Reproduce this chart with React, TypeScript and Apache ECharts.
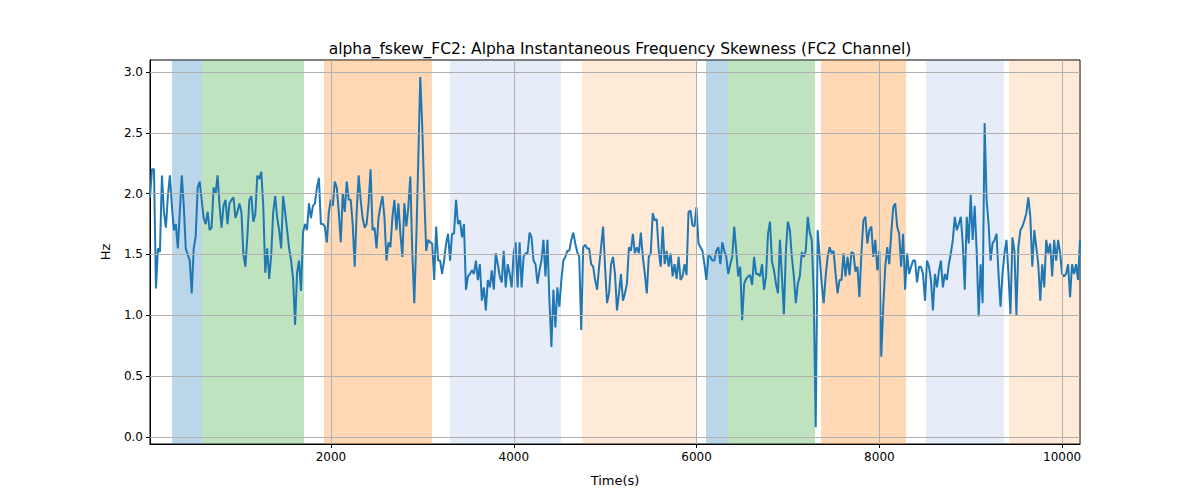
import { useEffect, useRef } from "react";
import * as echarts from "echarts";

const tStart = 20;
const tEnd = 10195;

// skewness values, sampled evenly across the recording
const values: number[] = [
  1.97, 2.2, 2.2, 1.22, 1.55, 1.52, 2.15, 1.85, 1.72, 1.98, 2.15, 1.9, 1.7, 1.75, 1.55, 1.85, 2.15, 1.9, 1.55, 1.5,
  1.45, 1.18, 1.55, 1.65, 2.05, 2.1, 1.95, 1.8, 1.75, 1.85, 1.7, 1.72, 2.05, 2.0, 2.15, 1.9, 1.72, 1.9, 1.95, 1.75,
  1.92, 1.95, 1.97, 1.8, 1.85, 1.92, 1.85, 1.5, 1.4, 1.65, 1.95, 1.98, 1.77, 1.83, 2.15, 2.12, 2.18, 1.9, 1.35, 1.55,
  1.3, 1.5, 1.85, 1.98, 1.8, 1.7, 1.55, 1.98, 1.85, 1.7, 1.55, 1.45, 1.3, 0.92, 1.35, 1.45, 1.2, 1.68, 1.75, 1.7,
  1.92, 1.8, 1.9, 1.92, 2.05, 2.13, 1.75, 1.75, 1.73, 1.6, 1.85, 1.95, 1.9, 2.1, 2.05, 1.85, 1.6, 2.0, 1.85, 2.1,
  1.95, 1.95, 1.75, 1.4, 1.85, 2.15, 1.95, 1.8, 1.72, 1.75, 1.92, 2.2, 1.7, 1.72, 1.55, 1.8, 1.9, 1.98, 1.8, 1.45,
  1.6,
  1.56, 1.81, 1.95, 1.7, 1.92, 1.67, 1.48, 1.92, 1.73, 1.89, 2.14, 1.51, 1.1, 1.62, 2.27, 2.96, 2.55, 2.0, 1.53, 1.62,
  1.6, 1.59, 1.29, 1.73, 1.45, 1.45, 1.34, 1.45, 1.59, 1.67, 1.45, 1.67, 1.67, 1.95, 1.75, 1.78, 1.64, 1.75, 1.21, 1.32,
  1.34, 1.37, 1.34, 1.45, 1.29, 1.42, 1.12, 1.23, 1.04, 1.29, 1.23, 1.37, 1.21, 1.51, 1.42, 1.32, 1.27, 1.53, 1.23, 1.42,
  1.34, 1.23, 1.51, 1.6, 1.23, 1.6, 1.23, 1.48, 1.51, 1.51, 1.68, 1.64, 1.45, 1.42, 1.26, 1.37, 1.45, 1.62, 1.32, 1.62,
  1.12, 0.74, 1.21, 0.9, 1.23, 1.07, 1.29, 1.45, 1.48, 1.53, 1.53, 1.62, 1.68, 1.59, 1.52, 1.48, 0.88, 1.56, 1.58, 1.55,
  1.55, 1.42, 1.4, 1.29, 1.21, 1.4, 1.56, 1.73, 1.4, 1.1, 1.18, 1.42, 1.48, 1.34, 1.04, 1.18, 1.34, 1.12,
  1.18, 1.26, 1.56, 1.53, 1.67, 1.51, 1.56, 1.51, 1.68, 1.48, 1.34, 1.18, 1.48, 1.51, 1.84, 1.78, 1.79, 1.53, 1.4, 1.73,
  1.42, 1.53, 1.4, 1.51, 1.32, 1.42, 1.3, 1.48, 1.29, 1.32, 1.42, 1.33, 1.85, 1.86, 1.74, 1.73, 1.89, 1.59, 1.56, 1.53,
  1.42, 1.29, 1.49, 1.48, 1.45, 1.45, 1.53, 1.56, 1.42, 1.6, 1.53, 1.48, 1.34, 1.42, 1.48, 1.73, 1.53, 1.32, 1.4, 0.96,
  1.26, 1.3, 1.32, 1.33, 1.25, 1.48, 1.34, 1.34, 1.32, 1.42, 1.21, 1.32, 1.67, 1.77, 1.44, 1.37, 1.26, 1.18, 1.62, 1.32,
  1.01, 1.53, 1.77, 1.7, 1.48, 1.32, 1.1, 1.26, 1.32, 1.52, 1.48, 1.53, 1.81, 1.68, 1.62, 1.18, 0.08, 1.7, 1.48, 1.26,
  1.1, 1.32, 1.48, 1.56, 1.51, 1.53, 1.34, 1.18, 1.29, 1.29, 1.51, 1.32, 1.48, 1.33, 1.52, 1.51, 1.36, 1.4,
  1.15, 1.51, 1.78, 1.81, 1.59, 1.7, 1.73, 1.48, 1.62, 1.37, 1.53, 0.66, 1.07, 1.4, 1.56, 1.42, 1.67, 1.89, 1.92, 1.73,
  1.67, 1.4, 1.67, 1.21, 1.51, 1.34, 1.4, 1.45, 1.45, 1.27, 1.4, 1.4, 1.34, 1.12, 1.45, 1.4, 1.29, 1.04, 1.34, 1.23,
  1.36, 1.45, 1.23, 1.34, 1.29, 1.42, 1.51, 1.62, 1.81, 1.7, 1.75, 1.81, 1.59, 1.21, 1.81, 1.59, 1.99, 1.62, 1.9, 1.53,
  0.99, 1.42, 1.1, 2.58, 1.95, 1.75, 1.45, 1.59, 1.62, 1.67, 1.34, 1.07, 1.34, 1.51, 1.62, 1.34, 1.01, 1.64, 1.53, 1.0,
  1.56, 1.7, 1.73, 1.78, 1.84, 1.97, 1.81, 1.4, 1.7, 1.56, 1.42, 1.12, 1.42, 1.23, 1.62, 1.51, 1.59, 1.32, 1.62, 1.45,
  1.62, 1.51, 1.34, 1.32, 1.34, 1.42, 1.15, 1.42, 1.34, 1.42, 1.29, 1.62,
];

// shaded segments: [start, end, colour, opacity]
const bandStarts = [261, 590, 1924, 3302, 4746, 6103, 6344, 7361, 8510, 9418];
const bandEnds = [590, 1705, 3105, 4517, 5993, 6344, 7296, 8291, 9363, 10195];
const bandColors = ["#1f77b4", "#2ca02c", "#ff7f0e", "#4f7fd0", "#ff7f0e", "#1f77b4", "#2ca02c", "#ff7f0e", "#4f7fd0", "#ff7f0e"];
const bandAlphas = [0.3, 0.3, 0.3, 0.14, 0.16, 0.3, 0.3, 0.3, 0.14, 0.16];

const xTicks = [2000, 4000, 6000, 8000, 10000];
const yTicks = [0, 0.5, 1, 1.5, 2, 2.5, 3];

export default function App() {
  const chartRef = useRef<HTMLDivElement>(null);

  useEffect(() => {
    if (!chartRef.current) return;
    const chart = echarts.init(chartRef.current, undefined, { renderer: "svg" });

    const step = (tEnd - tStart) / (values.length - 1);
    const points = values.map((v, i) => [tStart + i * step, v]);
    const font = "DejaVu Sans";

    const option: echarts.EChartsOption = {
      animation: false,
      title: {
        text: "alpha_fskew_FC2: Alpha Instantaneous Frequency Skewness (FC2 Channel)",
        left: 615,
        top: 36,
        textAlign: "center",
        textStyle: { fontFamily: font, fontSize: 15.5, fontWeight: "normal", color: "#000" },
      },
      grid: { left: 150, right: 120, top: 60, bottom: 56, show: true, borderColor: "#000", borderWidth: 1, backgroundColor: "transparent" },
      xAxis: {
        type: "value",
        min: tStart,
        max: tEnd,
        name: "Time(s)",
        nameLocation: "middle",
        nameGap: 30,
        nameTextStyle: { fontFamily: font, fontSize: 13, color: "#000" },
        axisLine: { show: true, onZero: false, lineStyle: { color: "#000" } },
        axisTick: { show: true, customValues: xTicks, length: 4, lineStyle: { color: "#000" } },
        axisLabel: { customValues: xTicks, fontFamily: font, fontSize: 12, color: "#000", margin: 7, formatter: (v: number) => String(v) },
        splitLine: { show: false },
      },
      yAxis: {
        type: "value",
        min: -0.058,
        max: 3.099,
        name: "Hz",
        nameLocation: "middle",
        nameGap: 38,
        nameTextStyle: { fontFamily: font, fontSize: 13, color: "#000" },
        axisLine: { show: true, onZero: false, lineStyle: { color: "#000" } },
        axisTick: { show: true, customValues: yTicks, length: 4, lineStyle: { color: "#000" } },
        axisLabel: {
          customValues: yTicks,
          fontFamily: font,
          fontSize: 12,
          color: "#000",
          margin: 7,
          formatter: (v: number) => v.toFixed(1),
        },
        splitLine: { show: false },
      },
      series: [
        {
          type: "line",
          data: points,
          showSymbol: false,
          lineStyle: { color: "#1f77b4", width: 2 },
          z: 3,
          markArea: {
            silent: true,
            data: bandStarts.map((s, i) => [
              { xAxis: s, itemStyle: { color: bandColors[i], opacity: bandAlphas[i] } },
              { xAxis: bandEnds[i] },
            ]) as any,
          },
          markLine: {
            silent: true,
            symbol: "none",
            label: { show: false },
            lineStyle: { color: "#b0b0b0", width: 1, type: "solid" },
            data: [
              ...xTicks.map((x) => ({ xAxis: x })),
              ...yTicks.map((y) => ({ yAxis: y })),
            ],
          },
        },
      ],
    };

    chart.setOption(option);
    return () => chart.dispose();
  }, []);

  return <div ref={chartRef} style={{ width: 1200, height: 500, margin: -8 }} />;
}
